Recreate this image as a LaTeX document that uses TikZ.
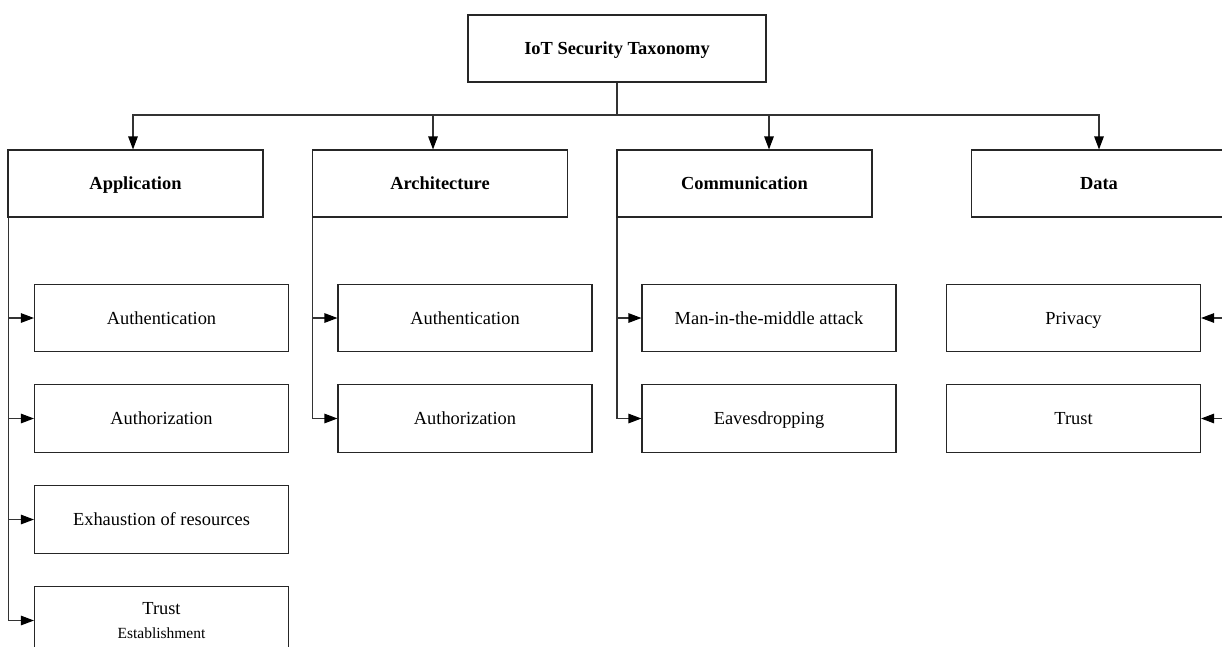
\documentclass[tikz,border=0pt]{standalone}
\usepackage{fontspec}
\setmainfont{Liberation Serif}
\usetikzlibrary{arrows.meta}
\begin{document}
\begin{tikzpicture}[x=1pt,y=-1pt,
  box/.style={draw=black!85, line width=1.1pt, fill=white, minimum width=255pt, minimum height=67pt, inner sep=0pt, align=center, font=\fontsize{18.4}{22}\selectfont},
  oneline/.style={text height=16.5pt, text depth=4pt},
  topbox/.style={box, oneline, font=\bfseries\fontsize{18.4}{22}\selectfont},
  leaf/.style={box, minimum width=254pt, minimum height=67.5pt},
  sleaf/.style={leaf, oneline},
  conn/.style={draw=black!80, line width=1.1pt},
  arr/.style={conn, -{Triangle[length=13pt,width=9.5pt,color=black]}}]
\useasboundingbox (0,0) rectangle (1222,646);
\begin{scope}
\clip (0,0) rectangle (1222,646);
\fill[white] (0,0) rectangle (1222,646);
% root
\node[topbox, minimum width=298pt] (root) at (617,48.5) {IoT Security Taxonomy};
% level 1
\node[topbox] (app)  at (135.5,183.5) {Application};
\node[topbox] (arch) at (440,183.5) {Architecture};
\node[topbox] (comm) at (744.5,183.5) {Communication};
\node[topbox] (data) at (1099,183.5) {Data};
% application children
\node[sleaf] (a1) at (161.5,318) {Authentication};
\node[sleaf] (a2) at (161.5,418.5) {Authorization};
\node[sleaf] (a3) at (161.5,519.5) {Exhaustion of resources};
\node[leaf] (a4) at (161.5,620.5) {Trust\\[2pt]{\fontsize{15.5}{18}\selectfont Establishment}};
% architecture children
\node[sleaf] (b1) at (465,318) {Authentication};
\node[sleaf] (b2) at (465,418.5) {Authorization};
% communication children
\node[sleaf] (c1) at (769,318) {Man-in-the-middle attack};
\node[sleaf] (c2) at (769,418.5) {Eavesdropping};
% data children
\node[sleaf] (d1) at (1073.5,318) {Privacy};
\node[sleaf] (d2) at (1073.5,418.5) {Trust};
% bus
\coordinate (bus) at (617,115);
\draw[conn] (root.south) -- (bus);
\draw[arr] (bus) -| ([xshift=-2.5pt]app.north);
\draw[arr] (bus) -| ([xshift=-7pt]arch.north);
\draw[arr] (bus) -| ([xshift=24.5pt]comm.north);
\draw[arr] (bus) -| (data.north);
% side connectors
\draw[arr] ([xshift=0.8pt]app.south west) |- (a1.west);
\draw[arr] ([xshift=0.8pt]app.south west) |- (a2.west);
\draw[arr] ([xshift=0.8pt]app.south west) |- (a3.west);
\draw[arr] ([xshift=0.8pt]app.south west) |- (a4.west);
\draw[arr] ([xshift=0.8pt]arch.south west) |- (b1.west);
\draw[arr] ([xshift=0.8pt]arch.south west) |- (b2.west);
\draw[arr] ([xshift=0.5pt]comm.south west) |- (c1.west);
\draw[arr] ([xshift=0.5pt]comm.south west) |- (c2.west);
\draw[arr] (data.south east) |- (d1.east);
\draw[arr] (data.south east) |- (d2.east);
\end{scope}
\end{tikzpicture}
\end{document}
